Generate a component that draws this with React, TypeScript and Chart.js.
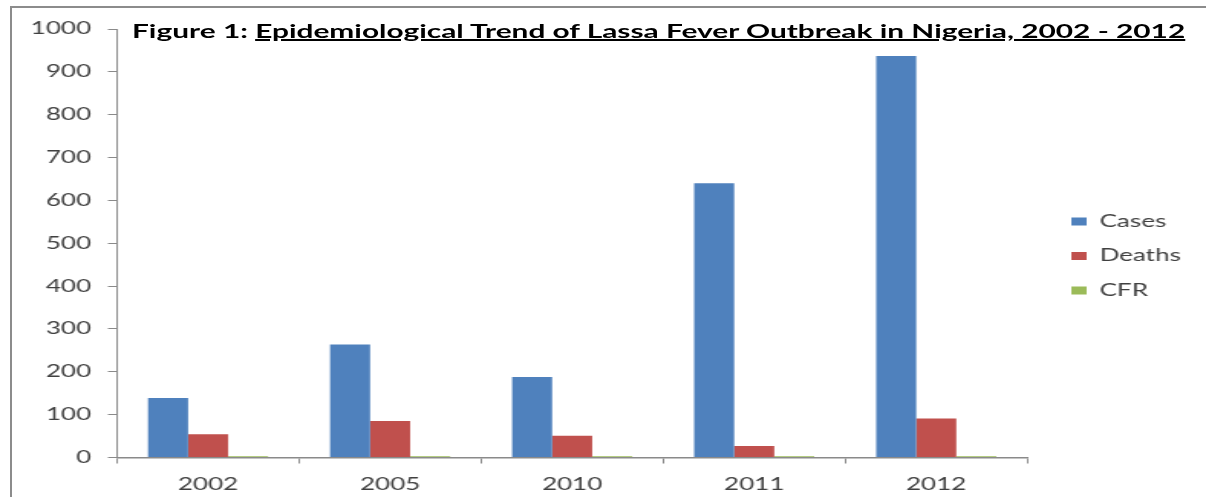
import React, { useEffect, useLayoutEffect, useRef } from "react";
import { Chart, registerables } from "chart.js";

Chart.register(...registerables);

// ---- data ----
const categories = ["2002", "2005", "2010", "2011", "2012"];
const casesValues = [139, 264, 188, 640, 937];
const deathsValues = [54, 85, 51, 27, 91];
const cfrValues = [3, 3, 3, 3, 3];
const seriesNames = ["Cases", "Deaths", "CFR"];
const seriesColors = ["#4F81BD", "#C0504D", "#9BBB59"];
const yMin = 0;
const yMax = 1000;
const yStep = 100;
const titlePrefix = "Figure 1: ";
const titleMain = "Epidemiological Trend of Lassa Fever Outbreak in Nigeria, 2002 - 2012";

// ---- layout ----
const PAGE_W = 1206;
const PAGE_H = 497;
const CANVAS_W = 788;
const STRETCH = PAGE_W / CANVAS_W;
const FONT = "Lato";
const FONT_SIZE = 17;
const TEXT_COLOR = "#404040";
const AXIS_COLOR = "#8a8a8a";
const TITLE_WIDTH = 1054;
const LEGEND_LEFT = 682.5; // legend box left edge (canvas units)
const LEGEND_PAD = 17.5;
const LEGEND_BOX_W = 10;

export default function App() {
  const canvasRef = useRef<HTMLCanvasElement | null>(null);
  const titleRef = useRef<HTMLDivElement | null>(null);

  useLayoutEffect(() => {
    const fit = () => {
      const el = titleRef.current;
      if (!el) return;
      el.style.transform = "none";
      const w = el.offsetWidth;
      if (w > 0) el.style.transform = `scaleX(${TITLE_WIDTH / w})`;
    };
    fit();
    if ((document as any).fonts && (document as any).fonts.ready) {
      (document as any).fonts.ready.then(fit);
    }
  }, []);

  useEffect(() => {
    const canvas = canvasRef.current;
    if (!canvas) return;

    // measure legend width so that the legend starts where intended
    const mctx = document.createElement("canvas").getContext("2d") as CanvasRenderingContext2D;
    mctx.font = `${FONT_SIZE}px ${FONT}`;
    let maxText = 0;
    seriesNames.forEach((n) => {
      maxText = Math.max(maxText, mctx.measureText(n).width);
    });
    // Chart.js vertical legend width = padding + item width + 10
    const legendWidth = LEGEND_PAD + LEGEND_BOX_W + FONT_SIZE / 2 + maxText + 10;
    const rightPad = Math.max(0, CANVAS_W - LEGEND_LEFT - legendWidth);

    const values = [casesValues, deathsValues, cfrValues];
    const chart = new Chart(canvas, {
      type: "bar",
      data: {
        labels: categories,
        datasets: seriesNames.map((name, i) => ({
          label: name,
          data: values[i],
          backgroundColor: seriesColors[i],
          borderWidth: 0,
          yAxisID: "y",
          categoryPercentage: 0.66,
          barPercentage: 1,
        })),
      },
      options: {
        animation: false,
        responsive: false,
        devicePixelRatio: 1,
        layout: { padding: { left: 0, top: 15, right: rightPad, bottom: 0 } },
        plugins: {
          // invisible spacer so the plot area starts at the right height
          title: {
            display: true,
            text: " ",
            font: { family: FONT, size: 10, lineHeight: 1.4 },
            padding: 0,
          },
          tooltip: { enabled: false },
          legend: {
            position: "right",
            align: "center",
            labels: {
              boxWidth: LEGEND_BOX_W,
              boxHeight: 8,
              padding: LEGEND_PAD,
              color: TEXT_COLOR,
              font: { family: FONT, size: FONT_SIZE },
            },
          },
        },
        scales: {
          x: {
            grid: {
              display: true,
              drawOnChartArea: false,
              drawTicks: true,
              tickLength: 6,
              color: AXIS_COLOR,
              offset: true,
            },
            border: { display: true, color: AXIS_COLOR, width: 1.5 },
            ticks: {
              color: TEXT_COLOR,
              font: { family: FONT, size: FONT_SIZE },
              padding: 10.8,
              maxRotation: 0,
              autoSkip: false,
            },
            afterFit: (s: any) => {
              s.height = 39.5;
            },
          },
          y: {
            min: yMin,
            max: yMax,
            ticks: {
              stepSize: yStep,
              color: TEXT_COLOR,
              font: { family: FONT, size: FONT_SIZE },
              padding: 11,
              callback: (v: any) => String(v),
            },
            grid: {
              display: true,
              drawOnChartArea: false,
              drawTicks: true,
              tickLength: 6,
              color: AXIS_COLOR,
            },
            border: { display: true, color: AXIS_COLOR, width: 1 },
            afterFit: (s: any) => {
              s.width = 76.5;
            },
          },
          y2: {
            type: "linear",
            position: "right",
            display: true,
            grid: { display: false },
            ticks: { display: false },
            border: { display: false },
            afterFit: (s: any) => {
              s.width = 11.3;
            },
          },
        },
      } as any,
    });
    return () => chart.destroy();
  }, []);

  return (
    <div
      style={{
        position: "fixed",
        left: 0,
        top: 0,
        width: PAGE_W,
        height: PAGE_H,
        background: "#ffffff",
        overflow: "hidden",
      }}
    >
      <div
        style={{
          position: "absolute",
          left: 10,
          top: 6,
          width: 1400,
          height: 700,
          borderTop: "2px solid #8c8c8c",
          borderLeft: "2px solid #8c8c8c",
        }}
      />
      <div
        style={{
          position: "absolute",
          left: 0,
          top: 0,
          width: CANVAS_W,
          height: PAGE_H,
          transform: `scaleX(${STRETCH})`,
          transformOrigin: "0 0",
        }}
      >
        <canvas ref={canvasRef} width={CANVAS_W} height={PAGE_H} style={{ display: "block" }} />
      </div>
      <div
        ref={titleRef}
        style={{
          position: "absolute",
          left: 132,
          top: 22,
          whiteSpace: "nowrap",
          fontFamily: FONT,
          fontWeight: 700,
          fontSize: 18,
          lineHeight: "18px",
          color: "#000000",
          transformOrigin: "0 0",
          display: "inline-block",
        }}
      >
        {titlePrefix}
        <span style={{ textDecoration: "underline", textDecorationThickness: "1.5px" }}>{titleMain}</span>
      </div>
    </div>
  );
}
